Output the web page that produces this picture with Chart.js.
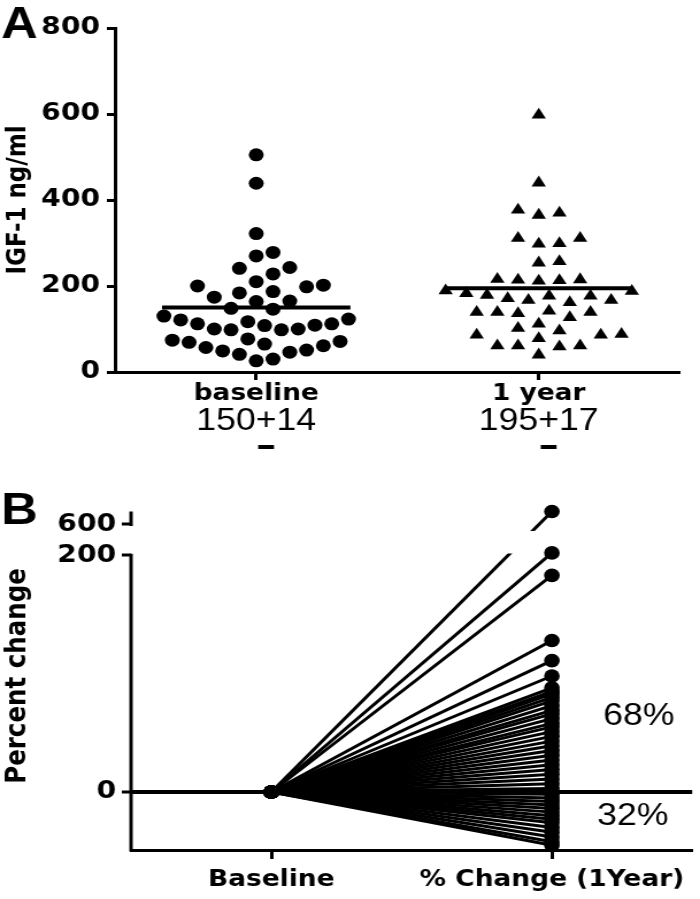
<!DOCTYPE html>
<html>
<head>
<meta charset="utf-8">
<script src="https://cdn.jsdelivr.net/npm/chart.js@4.4.1/dist/chart.umd.min.js"></script>
<style>
  html, body { margin: 0; padding: 0; background: #fff; }
  canvas { display: block; }
</style>
</head>
<body>
<canvas id="chart-igf" width="609" height="460" style="width:700px;height:460px"></canvas>
<canvas id="chart-change" width="609" height="439" style="width:700px;height:439px"></canvas>
<script>
// Panel A : IGF-1 au départ et à 1 an
const groups = ['baseline', '1 year'];
const baselineIGF = [505, 439, 322, 278, 270, 243, 241, 228, 202, 198, 200, 210, 184, 174, 187,
    164, 165, 146, 148, 121, 123, 130, 117, 112, 109, 100, 98, 98, 100, 108, 112, 71, 65, 57,
    49, 41, 26, 30, 46, 51, 61, 69, 77, 74];
const oneYearIGF = [598, 440, 370, 365, 377, 311, 298, 299, 311, 254, 257, 216, 213, 215, 214,
    212, 188, 179, 177, 167, 162, 167, 171, 177, 183, 189, 139, 139, 127, 136, 139, 142, 102,
    96, 112, 88, 86, 61, 61, 59, 61, 78, 86, 40];
const groupMeans = [150, 195];
const groupSEM = [14, 17];
const igfTicks = [0, 200, 400, 600, 800];

// Panel B : variation en % à 1 an
const changeLabels = ['Baseline', '% Change (1Year)'];
const percentChange = [611, 202, 183, 128, 111, 98, 88, 85, 83, 80, 77, 73, 69, 66, 62, 58, 55,
    51, 47, 43, 39, 35, 31, 27, 23, 19, 15, 11, 7, 3, -2, -5, -8, -11, -14, -17, -20, -23, -26,
    -30, -34, -38, -42, -45];
const changeTicks = [0, 200, 600];

const boldFont = { family: "'DejaVu Sans', sans-serif", size: 23, weight: 'bold' };
const tickFont = { family: "'DejaVu Sans', sans-serif", size: 24.5, weight: 'bold' };
const titleFontB = { family: "'DejaVu Sans', sans-serif", size: 24.5, weight: 'bold' };
const plainFont = "31px 'Liberation Sans', Arial, sans-serif";
const letterFont = "bold 44px 'Liberation Sans', Arial, sans-serif";

// axe brisé : 200 -> 600
const breakLow = 200;
const breakHigh = 600;
const breakShift = 26;
function brk(v) {
    return v > breakLow + 50 ? v - breakHigh + breakLow + breakShift : v;
}

// placement en essaim (beeswarm) : décalages horizontaux calculés depuis les valeurs
function swarmOffsets(values, slotPx, rowPx, pxPerValue, pxPerCategory) {
    const order = values.map(function (v, i) { return i; })
        .sort(function (a, b) { return values[a] - values[b]; });
    const placed = [];
    const offsets = new Array(values.length).fill(0);
    order.forEach(function (i) {
        const y = values[i] * pxPerValue;
        for (let k = 0; k < 400; k++) {
            const x = Math.ceil(k / 2) * (k % 2 ? 1 : -1) * slotPx / 2;
            const free = placed.every(function (p) {
                const ex = (p.x - x) / slotPx;
                const ey = (p.y - y) / rowPx;
                return ex * ex + ey * ey >= 0.999;
            });
            if (free) {
                placed.push({ x: x, y: y });
                offsets[i] = x / pxPerCategory;
                return;
            }
        }
    });
    return offsets;
}

function fixWidth(w) {
    return function (scale) {
        scale.width = w;
        scale.paddingTop = 0;
        scale.paddingBottom = 0;
    };
}
function fixHeight(h) {
    return function (scale) {
        scale.height = h;
        scale.paddingLeft = 0;
        scale.paddingRight = 0;
    };
}

const baseOptions = {
    responsive: false,
    animation: false,
    events: [],
    plugins: { legend: { display: false }, tooltip: { enabled: false } },
};

// ---------- Panel A ----------
const offA = swarmOffsets(baselineIGF, 14.6, 17, 0.43, 245.8);
const offB = swarmOffsets(oneYearIGF, 18, 14, 0.43, 245.8);

const panelA = {
    id: 'panelA',
    afterDraw(chart) {
        const ctx = chart.ctx;
        const x = chart.scales.x;
        ctx.save();
        ctx.fillStyle = '#000';
        ctx.textBaseline = 'alphabetic';
        ctx.font = letterFont;
        ctx.textAlign = 'left';
        ctx.fillText('A', 1, 38);

        ctx.font = plainFont;
        groups.forEach(function (g, i) {
            const parts = [String(groupMeans[i]), '+', String(groupSEM[i])];
            const widths = parts.map(function (p) { return ctx.measureText(p).width; });
            const total = widths.reduce(function (a, b) { return a + b; }, 0);
            let cx = x.getPixelForValue(i + 1) - total / 2;
            parts.forEach(function (p, j) {
                ctx.fillText(p, cx, 430);
                if (j === 1) {
                    ctx.fillRect(cx + widths[j] * 0.12, 445, widths[j] * 0.76, 4);
                }
                cx += widths[j];
            });
        });
        ctx.restore();
    },
};

new Chart(document.getElementById('chart-igf'), {
    type: 'scatter',
    data: {
        datasets: [
            {
                data: [{ x: 1 - 1 / 3, y: groupMeans[0] }, { x: 1 + 1 / 3, y: groupMeans[0] }],
                showLine: true,
                borderColor: '#000',
                borderWidth: 4,
                pointRadius: 0,
                order: 0,
            },
            {
                data: [{ x: 2 - 1 / 3, y: groupMeans[1] }, { x: 2 + 1 / 3, y: groupMeans[1] }],
                showLine: true,
                borderColor: '#000',
                borderWidth: 4,
                pointRadius: 0,
                order: 0,
            },
            {
                data: baselineIGF.map(function (v, i) { return { x: 1 + offA[i], y: v }; }),
                pointStyle: 'circle',
                pointRadius: 6.5,
                backgroundColor: '#000',
                borderWidth: 0,
                order: 1,
            },
            {
                data: oneYearIGF.map(function (v, i) { return { x: 2 + offB[i], y: v }; }),
                pointStyle: 'triangle',
                pointRadius: 7.2,
                backgroundColor: '#000',
                borderWidth: 0,
                order: 1,
            },
        ],
    },
    options: {
        ...baseOptions,
        layout: { padding: { left: 0, right: 17.4, top: 28, bottom: 0 } },
        scales: {
            x: {
                type: 'linear',
                min: 0.5,
                max: 2.5,
                afterBuildTicks(scale) {
                    scale.ticks = groups.map(function (g, i) { return { value: i + 1 }; });
                },
                afterFit: fixHeight(88),
                ticks: {
                    callback(value) { return groups[value - 1]; },
                    font: boldFont,
                    color: '#000',
                    padding: 0,
                    maxRotation: 0,
                    autoSkip: false,
                },
                grid: { drawOnChartArea: false, drawTicks: true, tickLength: 8, tickWidth: 3, tickColor: '#000' },
                border: { display: true, color: '#000', width: 3 },
            },
            y: {
                min: 0,
                max: 800,
                afterBuildTicks(scale) {
                    scale.ticks = igfTicks.map(function (v) { return { value: v }; });
                },
                afterFit: fixWidth(100),
                ticks: {
                    callback(value) { return String(value); },
                    font: tickFont,
                    color: '#000',
                    padding: 6,
                    autoSkip: false,
                },
                title: {
                    display: true,
                    text: 'IGF-1 ng/ml',
                    font: boldFont,
                    color: '#000',
                    padding: { top: 2, bottom: 0 },
                },
                grid: { drawOnChartArea: false, drawTicks: true, tickLength: 7, tickWidth: 3, tickColor: '#000' },
                border: { display: true, color: '#000', width: 3 },
            },
        },
    },
    plugins: [panelA],
});

// ---------- Panel B ----------
const nUp = percentChange.filter(function (v) { return v > 0; }).length;
const shareUp = Math.round((nUp / percentChange.length) * 100);
const shareDown = 100 - shareUp;

const panelB = {
    id: 'panelB',
    afterDatasetDraw(chart, args) {
        const ds = chart.data.datasets[args.index];
        if (!ds.broken) {
            return;
        }
        const { x, y } = chart.scales;
        const top = y.getPixelForValue(breakLow + breakShift - 5.5);
        const bottom = y.getPixelForValue(breakLow + 1.5);
        const left = x.getPixelForValue(1);
        chart.ctx.save();
        chart.ctx.fillStyle = '#fff';
        chart.ctx.fillRect(left, top, x.getPixelForValue(2) - left, bottom - top);
        chart.ctx.restore();
    },
    afterDraw(chart) {
        const ctx = chart.ctx;
        const y = chart.scales.y;
        const ax = chart.chartArea.left;
        ctx.save();
        ctx.strokeStyle = '#000';
        ctx.lineWidth = 3;
        ctx.beginPath();
        ctx.moveTo(ax, chart.chartArea.bottom + 1.5);
        ctx.lineTo(ax, y.getPixelForValue(breakLow) - 1.5);
        ctx.moveTo(ax, y.getPixelForValue(brk(breakHigh)) + 1.5);
        ctx.lineTo(ax, y.getPixelForValue(brk(breakHigh) + 11));
        ctx.stroke();

        ctx.fillStyle = '#000';
        ctx.textBaseline = 'alphabetic';
        ctx.textAlign = 'left';
        ctx.font = letterFont;
        ctx.fillText('B', 1, 64);
        ctx.font = plainFont;
        ctx.fillText(shareUp + '%', 524.8, 265);
        ctx.fillText(shareDown + '%', 519.6, 365);
        ctx.restore();
    },
};

const changeDatasets = percentChange.map(function (v) {
    const broken = v > breakLow + 50;
    return {
        data: [{ x: 1, y: 0 }, { x: 2, y: brk(v) }],
        showLine: true,
        borderColor: '#000',
        borderWidth: 3,
        pointRadius: 6.8,
        backgroundColor: '#000',
        pointBorderWidth: 0,
        order: broken ? 1 : 0,
        broken: broken,
    };
});

new Chart(document.getElementById('chart-change'), {
    type: 'scatter',
    data: { datasets: changeDatasets },
    options: {
        ...baseOptions,
        layout: { padding: { left: 0, right: 3.5, top: 42, bottom: 0 } },
        scales: {
            x: {
                type: 'linear',
                min: 0.5,
                max: 2.5,
                afterBuildTicks(scale) {
                    scale.ticks = changeLabels.map(function (g, i) { return { value: i + 1 }; });
                },
                afterFit: fixHeight(49),
                ticks: {
                    callback(value) { return changeLabels[value - 1]; },
                    font: boldFont,
                    color: '#000',
                    padding: 7,
                    maxRotation: 0,
                    autoSkip: false,
                },
                grid: { drawOnChartArea: false, drawTicks: true, tickLength: 9, tickWidth: 3, tickColor: '#000' },
                border: { display: true, color: '#000', width: 3 },
            },
            y: {
                min: -49,
                max: 245,
                afterBuildTicks(scale) {
                    scale.ticks = changeTicks.map(function (v) { return { value: brk(v) }; });
                },
                afterFit: fixWidth(114),
                ticks: {
                    callback(value, index) { return String(changeTicks[index]); },
                    font: tickFont,
                    color: '#000',
                    padding: 5,
                    autoSkip: false,
                },
                title: {
                    display: true,
                    text: 'Percent change',
                    font: titleFontB,
                    color: '#000',
                    padding: { top: 1, bottom: 0 },
                },
                grid: {
                    drawOnChartArea: true,
                    drawTicks: true,
                    tickLength: 8,
                    tickWidth: 3,
                    tickColor: '#000',
                    lineWidth: 4,
                    color(ctx) {
                        return ctx.tick && ctx.tick.value === 0 ? '#000' : 'rgba(0,0,0,0)';
                    },
                },
                border: { display: false },
            },
        },
    },
    plugins: [panelB],
});
</script>
</body>
</html>
